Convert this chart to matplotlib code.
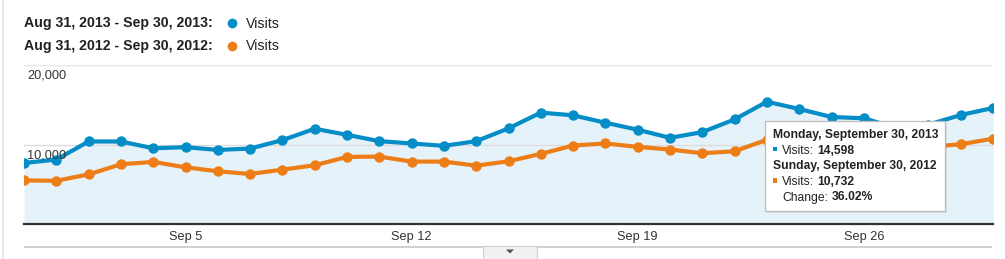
import matplotlib
matplotlib.use("Agg")
import matplotlib.pyplot as plt
from matplotlib.patches import Rectangle, Polygon
from matplotlib.lines import Line2D

plt.rcParams['font.family'] = ['Liberation Sans', 'DejaVu Sans']

# ---------------- data ----------------
days = list(range(31))  # Aug 31 .. Sep 30
visits_2013 = [7680, 8100, 10380, 10380, 9530, 9660, 9320, 9490, 10550, 11980,
               11220, 10420, 10130, 9830, 10420, 12030, 14010, 13670, 12740, 11860,
               10840, 11560, 13160, 15380, 14470, 13460, 13300, 12100, 12500, 13710,
               14598]
visits_2012 = [5480, 5440, 6240, 7510, 7810, 7130, 6630, 6290, 6840, 7390,
               8440, 8480, 7850, 7850, 7340, 7890, 8820, 9870, 10130, 9700,
               9370, 8900, 9150, 10600, 10800, 10500, 10300, 10000, 9700, 10030,
               10732]
xtick_days = [5, 12, 19, 26]
xtick_labels = ["Sep 5", "Sep 12", "Sep 19", "Sep 26"]
ytick_values = [10000, 20000]
ytick_labels = ["10,000", "20,000"]
legend_labels = ["Aug 31, 2013 - Sep 30, 2013:", "Aug 31, 2012 - Sep 30, 2012:"]
series_name = "Visits"
tooltip_head_2013 = "Monday, September 30, 2013"
tooltip_head_2012 = "Sunday, September 30, 2012"
tooltip_val_2013 = "14,598"
tooltip_val_2012 = "10,732"
tooltip_change = "36.02%"

BLUE = '#058dc7'
ORANGE = '#ed7e17'
FILL = '#e6f2fa'
TXT = '#222222'

W, H = 1005, 259
fig = plt.figure(figsize=(W / 100, H / 100), dpi=100)
fig.patch.set_facecolor('white')

def fx(x):
    return x / W

def fy(y):
    return 1 - y / H

# ---------------- main axes ----------------
ax_l, ax_r, ax_t, ax_b = 24, 993, 65, 224
ax = fig.add_axes([fx(ax_l), fy(ax_b), fx(ax_r - ax_l), (ax_b - ax_t) / H])
ax.set_xlim(0, 30)
ax.set_ylim(0, 20000)
ax.set_facecolor('none')
for s in ['left', 'right', 'top']:
    ax.spines[s].set_visible(False)
ax.spines['bottom'].set_color('#333333')
ax.spines['bottom'].set_linewidth(1.6)
ax.spines['bottom'].set_zorder(6)
ax.set_xticks([])
ax.set_yticks([])

ax.fill_between(days, 0, visits_2013, color=FILL, zorder=1, lw=0)
for v in ytick_values:
    ax.axhline(v, color='#dcdcdc' if v < 20000 else '#e6e6e6', lw=1.0, zorder=2)
ax.plot(days, visits_2012, color=ORANGE, lw=3.0, marker='o', ms=7.5,
        markeredgewidth=0, zorder=3, solid_joinstyle='round')
ax.plot(days, visits_2013, color=BLUE, lw=3.0, marker='o', ms=7.5,
        markeredgewidth=0, zorder=4, solid_joinstyle='round')

for v, lab in zip(ytick_values, ytick_labels):
    ax.annotate(lab, xy=(0, v), xycoords=('axes fraction', 'data'),
                xytext=(3, -14), textcoords='offset pixels',
                ha='left', va='baseline', fontsize=9.2, color='#333333', zorder=5)
for d, lab in zip(xtick_days, xtick_labels):
    ax.annotate(lab, xy=(d, 0), xycoords='data', xytext=(0, -16),
                textcoords='offset pixels', ha='center', va='baseline',
                fontsize=9.2, color='#333333', annotation_clip=False)

# ---------------- decorations ----------------
fig.add_artist(Line2D([fx(2.5), fx(2.5)], [0, 1], transform=fig.transFigure,
                      color='#e3e3e3', lw=1.2))
fig.add_artist(Line2D([fx(25), fx(991)], [fy(247), fy(247)], transform=fig.transFigure,
                      color='#c8c8c8', lw=1.2))
fig.add_artist(Rectangle((fx(483), fy(259)), fx(54), 13 / H, transform=fig.transFigure,
                         facecolor='#f1f1f1', edgecolor='#d0d0d0', lw=0.8, zorder=3))
fig.add_artist(Polygon([[fx(506), fy(249.5)], [fx(514), fy(249.5)], [fx(510), fy(253.5)]],
                       closed=True, transform=fig.transFigure, facecolor='#555555',
                       edgecolor='none', zorder=4))

# ---------------- legend ----------------
for i, (lab, col) in enumerate(zip(legend_labels, [BLUE, ORANGE])):
    base = 27.5 + i * 23
    fig.text(fx(24), fy(base), lab, fontsize=10.2, fontweight='bold', color=TXT,
             va='baseline', ha='left')
    fig.add_artist(Line2D([fx(232)], [fy(base - 5)], transform=fig.transFigure,
                          marker='o', ms=7, color=col, markeredgewidth=0))
    fig.text(fx(246), fy(base), series_name, fontsize=10.2, color=TXT,
             va='baseline', ha='left')

# ---------------- tooltip ----------------
tx0, tx1, ty0, ty1 = 765, 945, 121, 211
fig.add_artist(Rectangle((fx(tx0 + 1.5), fy(ty1 + 1.5)), fx(tx1 - tx0), (ty1 - ty0) / H,
                         transform=fig.transFigure, facecolor='#000000', alpha=0.08,
                         edgecolor='none', zorder=7))
fig.add_artist(Rectangle((fx(tx0), fy(ty1)), fx(tx1 - tx0), (ty1 - ty0) / H,
                         transform=fig.transFigure, facecolor='white',
                         edgecolor='#bdbdbd', lw=0.9, zorder=8))

renderer = fig.canvas.get_renderer()
TFS = 8.7

def tip_text(x, base, s, bold=False):
    t = fig.text(fx(x), fy(base), s, fontsize=TFS, color=TXT,
                 fontweight='bold' if bold else 'normal', va='baseline',
                 ha='left', zorder=9)
    return t

def after(t, gap=3.0):
    bb = t.get_window_extent(renderer)
    return bb.x1 + gap

bases = [137.7, 153.5, 169.2, 185.0, 200.5]
tip_text(772.7, bases[0], tooltip_head_2013, bold=True)
for base, col, val in [(bases[1], BLUE, tooltip_val_2013), (bases[3], ORANGE, tooltip_val_2012)]:
    fig.add_artist(Rectangle((fx(772.7), fy(base - 2.5)), fx(4.5), 4.5 / H,
                             transform=fig.transFigure, facecolor=col, edgecolor='none',
                             zorder=9))
    t = tip_text(782.3, base, series_name + ":")
    tip_text(after(t), base, val, bold=True)
tip_text(772.7, bases[2], tooltip_head_2012, bold=True)
t = tip_text(782.3, bases[4], "Change:")
tip_text(after(t), bases[4], tooltip_change, bold=True)

fig.savefig('out.png', dpi=100, facecolor='white')
